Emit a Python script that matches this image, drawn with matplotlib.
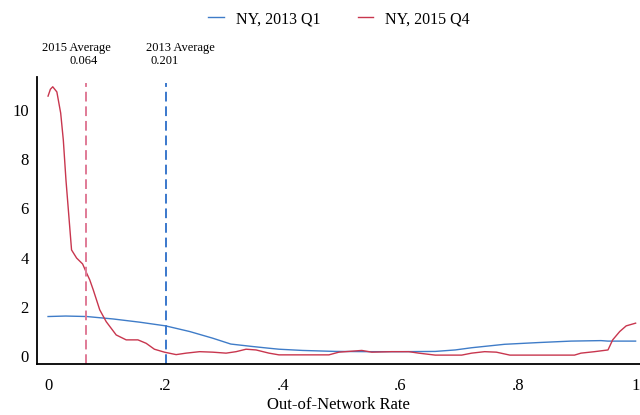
import numpy as np
import matplotlib
matplotlib.use('Agg')
import matplotlib.pyplot as plt

plt.rcParams['font.family'] = ['Liberation Serif', 'DejaVu Serif']

# density estimates
x_2013 = [0.0, 0.03, 0.066, 0.111, 0.156, 0.20, 0.241, 0.28, 0.311, 0.348, 0.376,
          0.393, 0.433, 0.489, 0.546, 0.602, 0.659, 0.693, 0.721, 0.777, 0.834,
          0.89, 0.941, 0.953, 1.0]
y_2013 = [1.6, 1.62, 1.6, 1.5, 1.37, 1.22, 0.99, 0.72, 0.48, 0.38, 0.31,
          0.27, 0.22, 0.18, 0.17, 0.17, 0.18, 0.24, 0.33, 0.47, 0.54,
          0.6, 0.62, 0.6, 0.6]

x_2015 = [0.0, 0.004, 0.008, 0.015, 0.0215, 0.026, 0.0305, 0.035, 0.040, 0.0486,
          0.0588, 0.0656, 0.071, 0.077, 0.088, 0.099, 0.116, 0.133, 0.153, 0.167,
          0.181, 0.198, 0.218, 0.235, 0.258, 0.28, 0.303, 0.32, 0.337, 0.354,
          0.376, 0.393, 0.478, 0.495, 0.534, 0.551, 0.585, 0.614, 0.631, 0.659,
          0.704, 0.721, 0.743, 0.763, 0.786, 0.896, 0.907, 0.93, 0.953, 0.961,
          0.973, 0.984, 1.0]
y_2015 = [10.57, 10.85, 10.95, 10.74, 9.88, 8.78, 7.15, 5.81, 4.31, 3.98,
          3.74, 3.37, 3.09, 2.68, 1.87, 1.39, 0.85, 0.65, 0.65, 0.51,
          0.27, 0.15, 0.05, 0.11, 0.17, 0.15, 0.11, 0.17, 0.27, 0.24,
          0.11, 0.04, 0.04, 0.15, 0.22, 0.15, 0.17, 0.17, 0.11, 0.03,
          0.03, 0.11, 0.17, 0.15, 0.03, 0.03, 0.11, 0.17, 0.24, 0.65,
          0.99, 1.22, 1.33]

avg_2013 = 0.201
avg_2015 = 0.064
x_ticks = [0, 0.2, 0.4, 0.6, 0.8, 1.0]
x_ticklabels = ['0', '.2', '.4', '.6', '.8', '1']
y_ticks = [0, 2, 4, 6, 8, 10]

blue = '#3f7cc8'
red = '#c8364e'
blue_dash = '#3a78cc'
red_dash = '#e07a96'

fig = plt.figure(figsize=(6.4, 4.15), dpi=100)
ax = fig.add_axes([0.058, 0.123, 0.942, 0.691])

l1, = ax.plot(x_2013, y_2013, color=blue, lw=1.0, label='NY, 2013 Q1')
l2, = ax.plot(x_2015, y_2015, color=red, lw=1.0, label='NY, 2015 Q4')

ax.plot([avg_2015, avg_2015], [-0.33, 11.1], color=red_dash, lw=1.4, dashes=(5, 2.5))
ax.plot([avg_2013, avg_2013], [-0.33, 11.1], color=blue_dash, lw=1.4, dashes=(5, 2.5))

ax.text(0.048, 12.52, '2015 Average', ha='center', va='center', fontsize=9)
ax.text(avg_2015 - 0.004, 11.99, '0.064', ha='center', va='center', fontsize=9)
ax.text(0.225, 12.52, '2013 Average', ha='center', va='center', fontsize=9)
ax.text(avg_2013 - 0.003, 11.99, '0.201', ha='center', va='center', fontsize=9)
for t in ax.texts:
    t.set_clip_on(False)

ax.set_xlim(-0.0186, 1.0075)
ax.set_ylim(-0.33, 11.34)
ax.set_xticks(x_ticks)
ax.set_xticklabels(x_ticklabels)
ax.set_yticks(y_ticks)
ax.tick_params(length=0, labelsize=12, colors='black', pad=6)
ax.tick_params(axis='x', pad=10)
ax.spines['top'].set_visible(False)
ax.spines['right'].set_visible(False)
ax.spines['left'].set_linewidth(1.3)
ax.spines['bottom'].set_linewidth(1.3)
ax.set_xlabel('Out-of-Network Rate', fontsize=12, labelpad=2)

fig.legend(handles=[l1, l2], loc='center', bbox_to_anchor=(0.53, 0.954), ncol=2,
           frameon=False, fontsize=11.5, handlelength=1.0, handletextpad=0.75,
           columnspacing=2.3)

fig.savefig('out.png', dpi=100)
